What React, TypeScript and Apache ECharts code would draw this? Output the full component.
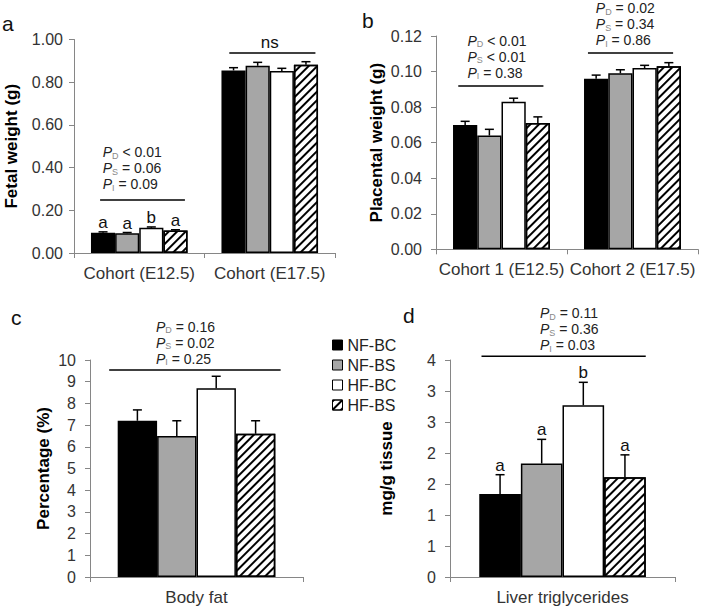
import { useEffect, useRef } from 'react';
import * as echarts from 'echarts';

const FONT = '"Liberation Sans", Arial, Helvetica, sans-serif';

const groupNames = ['NF-BC', 'NF-BS', 'HF-BC', 'HF-BS'];
const pSubscripts = ['D', 'S', 'I'];

// ---- Panel a: fetal weight ----
const fetalCategories = ['Cohort (E12.5)', 'Cohort (E17.5)'];
const fetalNFBC = [0.095, 0.855];
const fetalNFBS = [0.092, 0.877];
const fetalHFBC = [0.118, 0.852];
const fetalHFBS = [0.105, 0.882];
const fetalErrNFBC = [0.004, 0.013];
const fetalErrNFBS = [0.004, 0.016];
const fetalErrHFBC = [0.004, 0.013];
const fetalErrHFBS = [0.004, 0.014];
const fetalLetters = [['a', 'a', 'b', 'a'], ['', '', '', '']];
const fetalTicks = ['0.00', '0.20', '0.40', '0.60', '0.80', '1.00'];
const fetalPValuesE125 = ['< 0.01', '= 0.06', '= 0.09'];
const fetalNoteE175 = 'ns';

// ---- Panel b: placental weight ----
const placentalCategories = ['Cohort 1 (E12.5)', 'Cohort 2 (E17.5)'];
const placentalNFBC = [0.07, 0.096];
const placentalNFBS = [0.064, 0.099];
const placentalHFBC = [0.083, 0.102];
const placentalHFBS = [0.071, 0.103];
const placentalErrNFBC = [0.002, 0.002];
const placentalErrNFBS = [0.0035, 0.002];
const placentalErrHFBC = [0.002, 0.0015];
const placentalErrHFBS = [0.0035, 0.002];
const placentalTicks = ['0.00', '0.02', '0.04', '0.06', '0.08', '0.10', '0.12'];
const placentalPValuesC1 = ['< 0.01', '< 0.01', '= 0.38'];
const placentalPValuesC2 = ['= 0.02', '= 0.34', '= 0.86'];

// ---- Panel c: body fat ----
const bodyFatCategories = ['Body fat'];
const bodyFatMeans = [7.2, 6.5, 8.7, 6.6];
const bodyFatErr = [0.5, 0.7, 0.55, 0.6];
const bodyFatTicks = ['0', '1', '2', '3', '4', '5', '6', '7', '8', '9', '10'];
const bodyFatPValues = ['= 0.16', '= 0.02', '= 0.25'];

// ---- Panel d: liver triglycerides ----
const liverCategories = ['Liver triglycerides'];
const liverMeans = [1.34, 1.83, 2.77, 1.61];
const liverErr = [0.31, 0.39, 0.37, 0.36];
const liverLetters = ['a', 'a', 'b', 'a'];
const liverTicks = ['0', '1', '1', '2', '2', '3', '3', '4'];
const liverPValues = ['= 0.11', '= 0.36', '= 0.03'];

const GAP = 0.26;
const AXIS_COLOR = '#868686';
const LABEL_COLOR = '#333';

const barStyles = [
  { color: '#000000', borderColor: '#000', borderWidth: 1.5 },
  { color: '#a6a6a6', borderColor: '#000', borderWidth: 1.5 },
  { color: '#ffffff', borderColor: '#000', borderWidth: 1.5 },
  {
    color: '#ffffff',
    borderColor: '#000',
    borderWidth: 1.5,
    decal: {
      symbol: 'rect',
      symbolSize: 1,
      dashArrayX: [1, 0],
      dashArrayY: [2, 4],
      rotation: -Math.PI / 4,
      color: '#000',
    },
  },
];

type Ann = {
  cat: number;
  y: number;
  span: [number, number];
  textDx: number;
  gap: number;
  pvals?: string[];
  note?: string;
};

type Panel = {
  grid: { left: number; top: number; width: number; height: number };
  categories: string[];
  values: number[][]; // per group, per category
  errors: number[][];
  letters: string[][]; // per category, per group
  min: number;
  max: number;
  interval: number;
  ticks: string[];
  yName: string;
  nameGap: number;
  labelMargin: number;
  anns: Ann[];
};

const panels: Panel[] = [
  {
    grid: { left: 74, top: 39.5, width: 261, height: 213.5 },
    categories: fetalCategories,
    values: [fetalNFBC, fetalNFBS, fetalHFBC, fetalHFBS],
    errors: [fetalErrNFBC, fetalErrNFBS, fetalErrHFBC, fetalErrHFBS],
    letters: fetalLetters,
    min: 0,
    max: 1,
    interval: 0.2,
    ticks: fetalTicks,
    yName: 'Fetal weight (g)',
    nameGap: 54,
    labelMargin: 11,
    anns: [
      { cat: 0, y: 0.248, span: [-0.3, 0.35], textDx: -0.28, gap: 8, pvals: fetalPValuesE125 },
      { cat: 1, y: 0.937, span: [-0.31, 0.35], textDx: 0, gap: 2, note: fetalNoteE175 },
    ],
  },
  {
    grid: { left: 436, top: 36, width: 262, height: 213.3 },
    categories: placentalCategories,
    values: [placentalNFBC, placentalNFBS, placentalHFBC, placentalHFBS],
    errors: [placentalErrNFBC, placentalErrNFBS, placentalErrHFBC, placentalErrHFBS],
    letters: [['', '', '', ''], ['', '', '', '']],
    min: 0,
    max: 0.12,
    interval: 0.02,
    ticks: placentalTicks,
    yName: 'Placental weight (g)',
    nameGap: 51,
    labelMargin: 14,
    anns: [
      { cat: 0, y: 0.0919, span: [-0.33, 0.32], textDx: -0.26, gap: 5, pvals: placentalPValuesC1 },
      { cat: 1, y: 0.1104, span: [-0.34, 0.31], textDx: -0.28, gap: 5, pvals: placentalPValuesC2 },
    ],
  },
  {
    grid: { left: 90, top: 360, width: 213, height: 217 },
    categories: bodyFatCategories,
    values: bodyFatMeans.map((v) => [v]),
    errors: bodyFatErr.map((v) => [v]),
    letters: [['', '', '', '']],
    min: 0,
    max: 10,
    interval: 1,
    ticks: bodyFatTicks,
    yName: 'Percentage (%)',
    nameGap: 38,
    labelMargin: 14,
    anns: [{ cat: 0, y: 9.54, span: [-0.41, 0.395], textDx: -0.19, gap: 3, pvals: bodyFatPValues }],
  },
  {
    grid: { left: 450, top: 360, width: 225, height: 217 },
    categories: liverCategories,
    values: liverMeans.map((v) => [v]),
    errors: liverErr.map((v) => [v]),
    letters: [liverLetters],
    min: 0,
    max: 3.5,
    interval: 0.5,
    ticks: liverTicks,
    yName: 'mg/g tissue',
    nameGap: 55,
    labelMargin: 14,
    anns: [{ cat: 0, y: 3.56, span: [-0.36, 0.37], textDx: -0.1, gap: 3, pvals: liverPValues }],
  },
];

function pText(pvals: string[]) {
  return pvals.map((v, i) => `{p|P}{s|${pSubscripts[i]}}{v| ${v}}`).join('\n');
}

const pRich = {
  p: { fontStyle: 'italic', fontSize: 14, fontFamily: FONT, fill: '#222', lineHeight: 16 },
  s: { fontSize: 9, fontFamily: FONT, fill: '#888', verticalAlign: 'bottom' },
  v: { fontSize: 14, fontFamily: FONT, fill: '#222', lineHeight: 16 },
};

function buildOption() {
  const grids: any[] = [];
  const xAxes: any[] = [];
  const yAxes: any[] = [];
  const series: any[] = [];

  panels.forEach((p, pi) => {
    grids.push({ ...p.grid, containLabel: false });
    xAxes.push({
      type: 'category',
      gridIndex: pi,
      data: p.categories,
      axisLine: { lineStyle: { color: AXIS_COLOR, width: 1 } },
      axisTick: { show: true, length: 5, lineStyle: { color: AXIS_COLOR } },
      axisLabel: {
        fontSize: 17,
        color: LABEL_COLOR,
        fontFamily: FONT,
        margin: 12,
        interval: 0,
        hideOverlap: false,
      },
    });
    yAxes.push({
      type: 'value',
      gridIndex: pi,
      min: p.min,
      max: p.max,
      interval: p.interval,
      splitLine: { show: false },
      axisLine: { show: true, lineStyle: { color: AXIS_COLOR, width: 1 } },
      axisTick: { show: true, length: 5, lineStyle: { color: AXIS_COLOR } },
      axisLabel: {
        fontSize: 16,
        color: LABEL_COLOR,
        fontFamily: FONT,
        margin: p.labelMargin,
        formatter: (_v: number, i: number) => p.ticks[i] ?? '',
      },
      name: p.yName,
      nameLocation: 'middle',
      nameRotate: 90,
      nameGap: p.nameGap,
      nameTextStyle: { fontSize: 17, fontWeight: 'bold', color: '#000', fontFamily: FONT },
    });

    groupNames.forEach((g, gi) => {
      series.push({
        type: 'bar',
        name: g,
        xAxisIndex: pi,
        yAxisIndex: pi,
        data: p.values[gi],
        barGap: '0%',
        barCategoryGap: `${GAP * 100}%`,
        itemStyle: barStyles[gi],
        emphasis: { disabled: true },
        silent: true,
      });
    });

    const errData: number[][] = [];
    const letterList: string[] = [];
    p.categories.forEach((_c, ci) => {
      groupNames.forEach((_g, gi) => {
        errData.push([ci, p.values[gi][ci], p.errors[gi][ci], gi]);
        letterList.push(p.letters[ci]?.[gi] ?? '');
      });
    });

    series.push({
      type: 'custom',
      xAxisIndex: pi,
      yAxisIndex: pi,
      silent: true,
      z: 5,
      data: errData,
      renderItem: (params: any, api: any) => {
        const c = api.value(0);
        const m = api.value(1);
        const e = api.value(2);
        const g = api.value(3);
        const bandW = api.size([1, 0])[0];
        const barW = (bandW * (1 - GAP)) / 4;
        const cx = api.coord([c, 0])[0] - 2 * barW + (g + 0.5) * barW;
        const y0 = api.coord([c, m])[1];
        const y1 = api.coord([c, m + e])[1];
        const children: any[] = [
          { type: 'line', shape: { x1: cx, y1: y0, x2: cx, y2: y1 }, style: { stroke: '#000', lineWidth: 1.5 } },
          { type: 'line', shape: { x1: cx - 4.5, y1: y1, x2: cx + 4.5, y2: y1 }, style: { stroke: '#000', lineWidth: 1.5 } },
        ];
        const letter = letterList[params.dataIndex];
        if (letter) {
          children.push({
            type: 'text',
            x: cx,
            y: y1 - 1,
            style: {
              text: letter,
              fontSize: 17,
              fontFamily: FONT,
              fill: '#111',
              align: 'center',
              verticalAlign: 'bottom',
            },
          });
        }
        return { type: 'group', children };
      },
    });

    series.push({
      type: 'custom',
      xAxisIndex: pi,
      yAxisIndex: pi,
      silent: true,
      clip: false,
      z: 6,
      data: p.anns.map((a) => [a.cat, a.y]),
      renderItem: (params: any, api: any) => {
        const a = p.anns[params.dataIndex];
        const pt = api.coord([a.cat, a.y]);
        const bandW = api.size([1, 0])[0];
        const children: any[] = [
          {
            type: 'line',
            shape: { x1: pt[0] + a.span[0] * bandW, y1: pt[1], x2: pt[0] + a.span[1] * bandW, y2: pt[1] },
            style: { stroke: '#000', lineWidth: 1.5 },
          },
        ];
        if (a.pvals) {
          children.push({
            type: 'text',
            x: pt[0] + a.textDx * bandW,
            y: pt[1] - a.gap,
            style: {
              text: pText(a.pvals),
              rich: pRich,
              fontSize: 14,
              fontFamily: FONT,
              fill: '#222',
              align: 'left',
              verticalAlign: 'bottom',
            },
          });
        } else if (a.note) {
          children.push({
            type: 'text',
            x: pt[0] + a.textDx * bandW,
            y: pt[1] - a.gap,
            style: {
              text: a.note,
              fontSize: 17,
              fontFamily: FONT,
              fill: '#111',
              align: 'center',
              verticalAlign: 'bottom',
            },
          });
        }
        return { type: 'group', children };
      },
    });
  });

  const panelLabel = (t: string, x: number, y: number) => ({
    type: 'text',
    x,
    y,
    style: { text: t, fontSize: 21, fontFamily: FONT, fill: '#111', verticalAlign: 'middle', align: 'left' },
  });

  return {
    animation: false,
    backgroundColor: '#ffffff',
    grid: grids,
    xAxis: xAxes,
    yAxis: yAxes,
    series,
    legend: {
      data: groupNames,
      orient: 'vertical',
      left: 327,
      top: 332,
      itemWidth: 10,
      itemHeight: 10,
      itemGap: 4,
      icon: 'rect',
      selectedMode: false,
      textStyle: { fontSize: 16, color: '#222', fontFamily: FONT },
      itemStyle: { borderColor: '#000', borderWidth: 1 },
    },
    graphic: [
      panelLabel('a', 2, 23),
      panelLabel('b', 362, 20),
      panelLabel('c', 11, 317),
      panelLabel('d', 403, 315),
    ],
  };
}

export default function App() {
  const ref = useRef<HTMLDivElement>(null);
  useEffect(() => {
    if (!ref.current) return;
    const chart = echarts.init(ref.current, null, { renderer: 'svg' });
    chart.setOption(buildOption() as any);
    return () => chart.dispose();
  }, []);
  return (
    <div
      ref={ref}
      style={{ position: 'absolute', left: 0, top: 0, width: 701, height: 608, background: '#fff' }}
    />
  );
}
